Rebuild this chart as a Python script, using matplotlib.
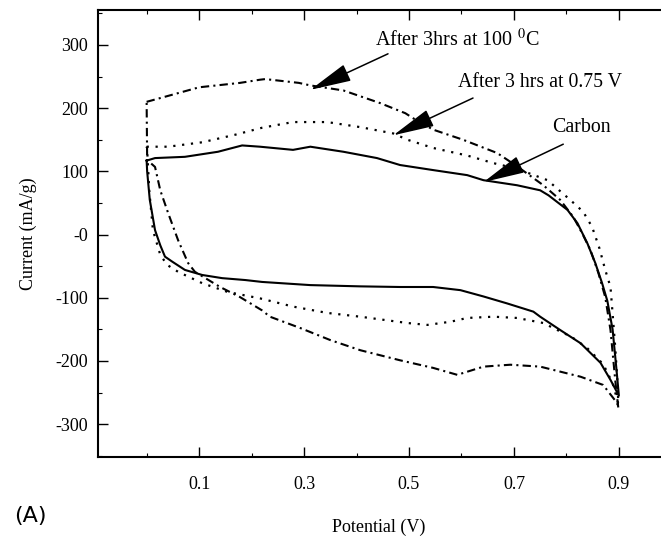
import matplotlib
matplotlib.use("Agg")
import matplotlib.pyplot as plt  # Draw the cyclic voltammograms
from matplotlib.ticker import MultipleLocator

# Serif text like the original journal figure
plt.rcParams['font.family'] = ['Liberation Serif', 'DejaVu Serif']
plt.rcParams['mathtext.fontset'] = 'stix'

# Carbon (solid line), loop: anodic branch then cathodic branch
carbon_v = [0.0, 0.016, 0.073, 0.136, 0.182, 0.216, 0.279, 0.312, 0.375, 0.439, 0.483, 0.546,
            0.611, 0.642, 0.706, 0.75, 0.766, 0.802, 0.821, 0.84, 0.855, 0.868, 0.878, 0.888,
            0.895, 0.9,
            0.884, 0.865, 0.827, 0.788, 0.75, 0.737, 0.687, 0.642, 0.598, 0.546, 0.483, 0.407,
            0.312, 0.22, 0.188, 0.144, 0.106, 0.073, 0.049, 0.035, 0.026, 0.016, 0.006, 0.001, 0.0]
carbon_i = [117, 121, 123, 131, 141, 139, 134, 139, 131, 121, 110, 102,
            94, 86, 78, 70, 62, 39, 18, -14, -45, -77, -105, -150,
            -210, -255,
            -230, -203, -172, -151, -130, -122, -109, -98, -88, -83, -83, -82,
            -80, -75, -72, -69, -64, -56, -43, -35, -17, 7, 55, 100, 117]

# After 3 hrs at 0.75 V (dotted line)
hold_v = [0.0, 0.041, 0.106, 0.169, 0.22, 0.279, 0.344, 0.407, 0.47, 0.497, 0.546, 0.611,
          0.661, 0.706, 0.764, 0.807, 0.832, 0.849, 0.863, 0.874, 0.884, 0.888, 0.893, 0.897,
          0.899,
          0.888, 0.87, 0.84, 0.81, 0.78, 0.756, 0.706, 0.661, 0.611, 0.579, 0.535, 0.497, 0.407,
          0.344, 0.279, 0.216, 0.155, 0.106, 0.06, 0.039, 0.026, 0.012, 0.005, 0.001, 0.0]
hold_i = [139, 139, 146, 158, 169, 178, 178, 170, 160, 150, 137, 125,
          113, 104, 86, 55, 36, 12, -22, -56, -83, -125, -178, -230,
          -268,
          -235, -205, -180, -162, -150, -140, -132, -130, -132, -138, -143, -140, -130,
          -124, -114, -101, -91, -77, -59, -48, -32, 7, 70, 134, 139]

# After 3hrs at 100 C (dash-dot line)
heat_v = [0.0, 0.1, 0.178, 0.216, 0.226, 0.29, 0.312, 0.375, 0.445, 0.493, 0.508, 0.546,
          0.603, 0.668, 0.706, 0.756, 0.788, 0.813, 0.83, 0.846, 0.861, 0.874, 0.884, 0.893,
          0.899,
          0.897, 0.87, 0.827, 0.75, 0.693, 0.642, 0.592, 0.546, 0.483, 0.407, 0.35, 0.293,
          0.235, 0.22, 0.178, 0.14, 0.092, 0.079, 0.06, 0.041, 0.026, 0.016, 0.001, 0.0]
heat_i = [210, 233, 240, 245, 246, 240, 236, 228, 208, 192, 184, 166,
          150, 129, 108, 78, 55, 28, 2, -25, -61, -99, -151, -230,
          -275,
          -267, -238, -225, -209, -206, -209, -222, -211, -199, -183, -167, -148,
          -130, -120, -99, -83, -59, -45, -9, 34, 70, 107, 118, 210]

x_ticks = [0.1, 0.3, 0.5, 0.7, 0.9]
x_labels = ['0.1', '0.3', '0.5', '0.7', '0.9']
y_ticks = [300, 200, 100, 0, -100, -200, -300]
y_labels = ['300', '200', '100', '-0', '-100', '-200', '-300']

fig = plt.figure(figsize=(6.61, 5.37), dpi=100)
ax = fig.add_axes([0.148, 0.149, 0.851, 0.832])

ax.plot(carbon_v, carbon_i, color='black', lw=1.5, linestyle='-')
ax.plot(hold_v, hold_i, color='black', lw=1.6, linestyle=(0, (1, 3.0)))
ax.plot(heat_v, heat_i, color='black', lw=1.5, linestyle=(0, (4, 2, 1, 2)))

# Labels with arrows pointing at each curve
arrow = dict(arrowstyle='-|>,head_length=1.3,head_width=0.28', color='black',
             lw=1.1, mutation_scale=20, shrinkA=0, shrinkB=0)
ax.text(0.436, 308, 'After 3hrs at 100 $^{0}$C', fontsize=14.5, va='center')
ax.annotate('', xy=(0.312, 229), xytext=(0.46, 286), arrowprops=arrow)
ax.text(0.594, 241, 'After 3 hrs at 0.75 V', fontsize=14.3, va='center')
ax.annotate('', xy=(0.47, 157), xytext=(0.622, 216), arrowprops=arrow)
ax.text(0.773, 170, 'Carbon', fontsize=14.3, va='center')
ax.annotate('', xy=(0.642, 83), xytext=(0.794, 143), arrowprops=arrow)

ax.set_xlim(-0.093, 0.979)
ax.set_ylim(-352, 355)
ax.set_xticks(x_ticks)
ax.set_xticklabels(x_labels)
ax.set_yticks(y_ticks)
ax.set_yticklabels(y_labels)
ax.xaxis.set_minor_locator(MultipleLocator(0.1))
ax.yaxis.set_minor_locator(MultipleLocator(50))
ax.tick_params(which='both', direction='in', top=True, right=False, labelsize=13)
ax.tick_params(axis='x', which='major', pad=14)
ax.tick_params(axis='y', which='major', pad=7)
ax.tick_params(which='major', length=7, width=1)
ax.tick_params(which='minor', length=3, width=0.8)
ax.spines['right'].set_visible(False)
for s in ['left', 'bottom', 'top']:
    ax.spines[s].set_linewidth(1.5)

ax.set_xlabel('Potential (V)', fontsize=13, labelpad=18)
ax.set_ylabel('Current (mA/g)', fontsize=13, labelpad=13)

fig.text(0.021, 0.04, '(A)', fontsize=16, family='DejaVu Sans', va='center')

plt.savefig('out.png', dpi=100)
